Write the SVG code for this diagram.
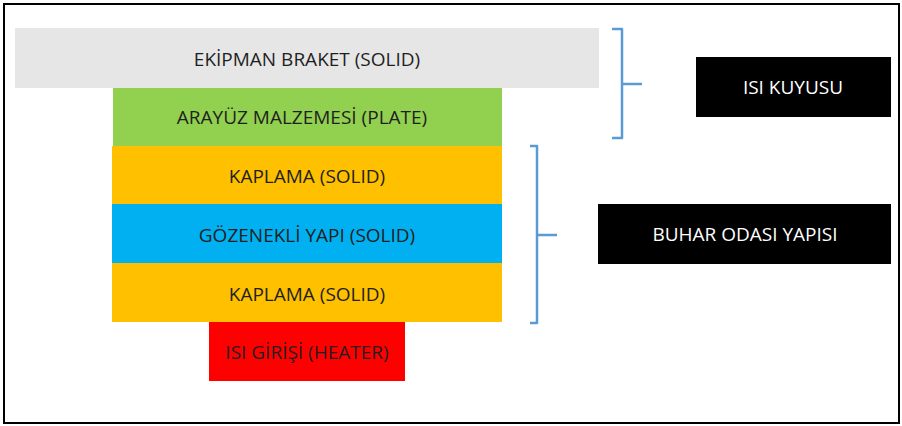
<svg xmlns="http://www.w3.org/2000/svg" width="902" height="426" viewBox="0 0 902 426">
<style>
.t{font-family:"Open Sans","Liberation Sans",sans-serif;font-size:19px;fill:#1f1f1f;text-anchor:middle;dominant-baseline:central}
.w{fill:#ffffff}
.br{fill:none;stroke:#5b9bd5;stroke-width:2.5;stroke-linejoin:round}
</style>
<rect x="0" y="0" width="902" height="426" fill="#ffffff"/>
<rect x="4" y="4" width="895" height="419" fill="none" stroke="#000000" stroke-width="2"/>
<g id="ekipman"><rect x="15" y="28" width="584" height="60" fill="#e6e6e6"/><text class="t" x="307" y="59">EKİPMAN BRAKET (SOLID)</text></g>
<g id="arayuz"><rect x="113" y="88" width="389" height="58" fill="#92d050"/><text class="t" x="302" y="117">ARAYÜZ MALZEMESİ (PLATE)</text></g>
<g id="kaplama1"><rect x="112" y="146" width="390" height="58" fill="#ffc000"/><text class="t" x="307" y="176">KAPLAMA (SOLID)</text></g>
<g id="gozenekli"><rect x="112" y="204" width="390" height="59" fill="#00b0f0"/><text class="t" x="307" y="235">GÖZENEKLİ YAPI (SOLID)</text></g>
<g id="kaplama2"><rect x="112" y="263" width="390" height="59" fill="#ffc000"/><text class="t" x="307" y="294">KAPLAMA (SOLID)</text></g>
<g id="heater"><rect x="209" y="322" width="196" height="59" fill="#ff0000"/><text class="t" x="307" y="352">ISI GİRİŞİ (HEATER)</text></g>
<g id="connectors">
<path class="br" d="M612,29 H622 V138 H612 M622,84 H642"/>
<path class="br" d="M530,146 H537 V323 H530 M537,235 H557"/>
</g>
<g id="isi-kuyusu"><rect x="696" y="57" width="195" height="60" fill="#000000"/><text class="t w" x="793" y="87">ISI KUYUSU</text></g>
<g id="buhar"><rect x="598" y="204" width="293" height="60" fill="#000000"/><text class="t w" x="745" y="234">BUHAR ODASI YAPISI</text></g>
</svg>
